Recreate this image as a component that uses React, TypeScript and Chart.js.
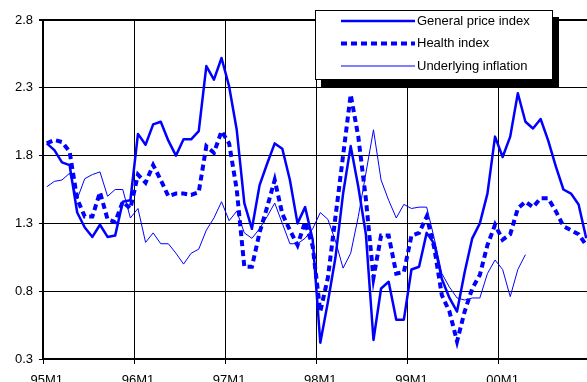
import { useEffect, useRef } from 'react';
import { Chart, registerables } from 'chart.js';

Chart.register(...registerables);

// Monthly categories 95M1 .. 00M12
const years = ['95', '96', '97', '98', '99', '00'];
const months = [1, 2, 3, 4, 5, 6, 7, 8, 9, 10, 11, 12];
const labels = years.flatMap((y) => months.map((m) => `${y}M${m}`));

const generalPrice = [
  1.89, 1.84, 1.75, 1.73, 1.38, 1.27, 1.2, 1.29, 1.2, 1.21, 1.46, 1.47,
  1.96, 1.88, 2.03, 2.05, 1.91, 1.8, 1.92, 1.92, 1.98, 2.46, 2.36, 2.52,
  2.31, 1.99, 1.45, 1.26, 1.58, 1.74, 1.89, 1.85, 1.62, 1.3, 1.42, 1.18,
  0.42, 0.72, 1.05, 1.52, 1.87, 1.57, 1.22, 0.44, 0.82, 0.87, 0.59, 0.59,
  0.96, 0.98, 1.23, 1.15, 0.89, 0.75, 0.65, 0.94, 1.19, 1.3, 1.52, 1.94,
  1.79, 1.94, 2.26, 2.05, 2.0, 2.07, 1.91, 1.72, 1.55, 1.52, 1.44, 1.19,
];

const health = [
  1.89, 1.915, 1.9, 1.83, 1.48, 1.35, 1.35, 1.53, 1.33, 1.31, 1.46, 1.41,
  1.66, 1.6, 1.73, 1.62, 1.5, 1.52, 1.52, 1.51, 1.53, 1.87, 1.82, 1.98,
  1.89, 1.55, 0.98, 0.98, 1.23, 1.42, 1.62, 1.37, 1.25, 1.14, 1.31, 1.13,
  0.65, 0.9, 1.35, 1.8, 2.25, 1.94, 1.48, 0.9, 1.21, 1.21, 0.93, 0.94,
  1.21, 1.23, 1.35, 1.12, 0.77, 0.65, 0.43, 0.65, 0.82, 0.92, 1.14, 1.29,
  1.18, 1.22, 1.41, 1.46, 1.42, 1.485, 1.485, 1.39, 1.28, 1.25, 1.22, 1.14,
];

const underlying = [
  1.57, 1.61, 1.62, 1.67, 1.48, 1.63, 1.66, 1.68, 1.5, 1.55, 1.55, 1.34,
  1.41, 1.16, 1.23, 1.15, 1.15, 1.08, 1.0, 1.08, 1.11, 1.25, 1.34, 1.46,
  1.32, 1.39, 1.23, 1.19, 1.26, 1.35, 1.45, 1.3, 1.15, 1.15, 1.19, 1.26,
  1.38, 1.33, 1.17, 0.97, 1.08, 1.35, 1.67, 1.99, 1.62, 1.47, 1.34, 1.44,
  1.41, 1.42, 1.42, 1.19, 0.93, 0.83, 0.75, 0.735, 0.75, 0.75, 0.93, 1.03,
  0.96, 0.76, 0.96, 1.07, null, null, null, null, null, null, null, null,
];

const yTicks = [0.3, 0.8, 1.3, 1.8, 2.3, 2.8];
const seriesNames = ['General price index', 'Health index', 'Underlying inflation'];

const FONT = '"Liberation Sans", Arial, Helvetica, sans-serif';
const BLUE = '#0000ff';

// Boxed legend with a solid drop shadow, drawn over the top-right of the plot
const boxedLegend = {
  id: 'boxedLegend',
  afterDraw(chart: any) {
    const ctx = chart.ctx as CanvasRenderingContext2D;
    const bx = 315;
    const by = 10;
    const bw = 238;
    const bh = 70;
    ctx.save();
    ctx.fillStyle = '#000';
    ctx.fillRect(bx + 6, by + 7, bw, bh);
    ctx.fillStyle = '#fff';
    ctx.fillRect(bx, by, bw, bh);
    ctx.strokeStyle = '#000';
    ctx.lineWidth = 1;
    ctx.strokeRect(bx + 0.5, by + 0.5, bw - 1, bh - 1);

    const rows = [21, 43.5, 66];
    chart.data.datasets.forEach((ds: any, i: number) => {
      const y = rows[i];
      ctx.beginPath();
      ctx.strokeStyle = ds.borderColor;
      ctx.lineWidth = ds.borderWidth;
      ctx.setLineDash(ds.borderDash || []);
      ctx.moveTo(341, y);
      ctx.lineTo(415, y);
      ctx.stroke();
      ctx.setLineDash([]);
      ctx.fillStyle = '#000';
      ctx.font = `13px ${FONT}`;
      ctx.textAlign = 'left';
      ctx.textBaseline = 'middle';
      ctx.fillText(ds.label, 417, y);
    });
    ctx.restore();
  },
};

export default function App() {
  const canvasRef = useRef<HTMLCanvasElement | null>(null);

  useEffect(() => {
    const canvas = canvasRef.current;
    if (!canvas) return;
    const chart = new Chart(canvas, {
      type: 'line',
      data: {
        labels,
        datasets: [
          {
            label: seriesNames[0],
            data: generalPrice,
            borderColor: BLUE,
            borderWidth: 2.5,
            borderJoinStyle: 'round',
            pointRadius: 0,
            tension: 0,
            fill: false,
            order: 3,
          },
          {
            label: seriesNames[1],
            data: health,
            borderColor: BLUE,
            borderWidth: 4,
            borderDash: [6, 4],
            pointRadius: 0,
            tension: 0,
            fill: false,
            order: 2,
          },
          {
            label: seriesNames[2],
            data: underlying,
            borderColor: BLUE,
            borderWidth: 1,
            pointRadius: 0,
            tension: 0,
            fill: false,
            spanGaps: false,
            order: 1,
          },
        ],
      },
      options: {
        responsive: false,
        animation: false,
        devicePixelRatio: 1,
        layout: { padding: { top: 20, right: 6, left: 0, bottom: 0 } },
        plugins: {
          legend: { display: false },
          tooltip: { enabled: false },
        },
        scales: {
          x: {
            type: 'category',
            offset: true,
            grid: {
              offset: true,
              color: (ctx: any) => (ctx.index % 12 === 0 ? '#000' : 'rgba(0,0,0,0)'),
              lineWidth: 1,
              drawTicks: true,
              tickLength: 5,
            },
            border: { color: '#000', width: 2 },
            ticks: {
              autoSkip: false,
              maxRotation: 0,
              minRotation: 0,
              color: '#000',
              padding: 9,
              font: { family: FONT, size: 13 },
              callback: (_v: any, i: number) => (i % 12 === 0 ? labels[i] : ''),
            },
            afterFit: (scale: any) => {
              scale.height = 23;
            },
          },
          y: {
            min: 0.3,
            max: 2.8,
            afterBuildTicks: (scale: any) => {
              scale.ticks = yTicks.map((v) => ({ value: v }));
            },
            grid: {
              color: '#000',
              lineWidth: (ctx: any) => (ctx.tick && Math.abs(ctx.tick.value - 2.8) < 1e-6 ? 2 : 1),
              drawTicks: true,
              tickLength: 4,
            },
            border: { color: '#000', width: 2 },
            ticks: {
              color: '#000',
              padding: 6,
              font: { family: FONT, size: 13 },
              callback: (v: any) => Number(v).toFixed(1),
            },
            afterFit: (scale: any) => {
              scale.width = 43;
            },
          },
        },
      },
      plugins: [boxedLegend],
    });
    return () => chart.destroy();
  }, []);

  return (
    <div
      style={{
        position: 'fixed',
        left: 0,
        top: 0,
        width: 587,
        height: 382,
        overflow: 'hidden',
        background: '#fff',
      }}
    >
      <canvas ref={canvasRef} width={596} height={382} style={{ display: 'block' }} />
    </div>
  );
}
